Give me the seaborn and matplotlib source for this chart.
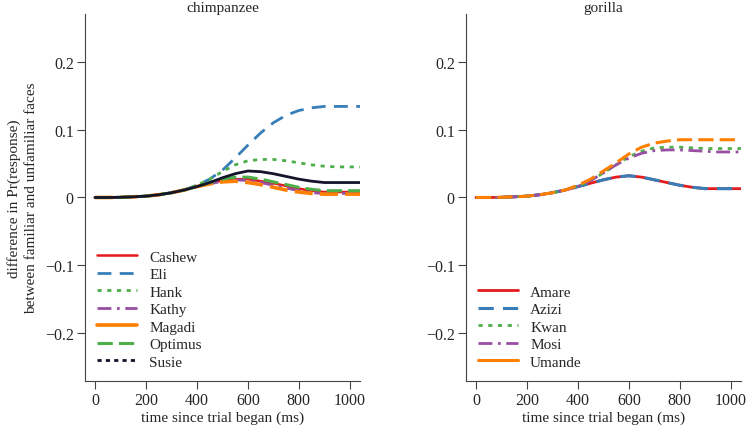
import numpy as np
import pandas as pd
import matplotlib
matplotlib.use("Agg")
import matplotlib.pyplot as plt
from matplotlib.lines import Line2D
import seaborn as sns

# tiempos (ms)
tiempos = [0, 50, 100, 150, 200, 250, 300, 350, 400, 450, 500, 550, 600,
           650, 700, 750, 800, 850, 900, 950, 1000, 1040]
inicio = [0, 0, 0.0003, 0.001, 0.002, 0.004, 0.007, 0.011, 0.016]

# chimpances
cashew = inicio + [0.021, 0.025, 0.027, 0.027, 0.024, 0.021, 0.017, 0.013, 0.010, 0.008, 0.008, 0.008, 0.008]
eli = inicio[:-1] + [0.018, 0.027, 0.040, 0.058, 0.077, 0.095, 0.110, 0.121, 0.128, 0.132, 0.134, 0.134, 0.134, 0.134]
hank = inicio[:-1] + [0.018, 0.027, 0.038, 0.048, 0.054, 0.056, 0.056, 0.054, 0.051, 0.048, 0.046, 0.045, 0.045, 0.045]
kathy = inicio + [0.020, 0.024, 0.026, 0.025, 0.022, 0.018, 0.014, 0.010, 0.007, 0.006, 0.006, 0.006, 0.006]
magadi = inicio + [0.020, 0.023, 0.024, 0.022, 0.019, 0.015, 0.011, 0.008, 0.006, 0.005, 0.005, 0.005, 0.005]
optimus = inicio + [0.022, 0.027, 0.030, 0.030, 0.027, 0.023, 0.019, 0.015, 0.012, 0.010, 0.010, 0.010, 0.010]
susie = inicio + [0.022, 0.029, 0.035, 0.039, 0.038, 0.035, 0.031, 0.027, 0.024, 0.022, 0.022, 0.022, 0.022]

# gorilas
amare = inicio + [0.021, 0.026, 0.030, 0.032, 0.030, 0.026, 0.022, 0.018, 0.015, 0.013, 0.013, 0.013, 0.013]
azizi = inicio + [0.021, 0.026, 0.030, 0.032, 0.030, 0.026, 0.022, 0.018, 0.015, 0.013, 0.013, 0.013, 0.013]
kwan = inicio[:-1] + [0.017, 0.025, 0.036, 0.048, 0.060, 0.068, 0.073, 0.074, 0.074, 0.073, 0.072, 0.072, 0.072, 0.072]
mosi = inicio + [0.025, 0.036, 0.048, 0.058, 0.065, 0.069, 0.070, 0.070, 0.069, 0.068, 0.067, 0.067, 0.067]
umande = inicio[:-1] + [0.018, 0.027, 0.039, 0.051, 0.064, 0.074, 0.080, 0.083, 0.085, 0.085, 0.085, 0.085, 0.085, 0.085]

chimp_nombres = ["Cashew", "Eli", "Hank", "Kathy", "Magadi", "Optimus", "Susie"]
chimp_datos = [cashew, eli, hank, kathy, magadi, optimus, susie]
gori_nombres = ["Amare", "Azizi", "Kwan", "Mosi", "Umande"]
gori_datos = [amare, azizi, kwan, mosi, umande]

rojo, azul, verde, morado, naranja, negro = "#e41a1c", "#377eb8", "#4daf4a", "#984ea3", "#ff7f00", "#14142b"

# (color, estilo en grafico, estilo en leyenda, grosor)
estilos_chimp = [
    (rojo, "-", "-", 1.8),
    (azul, (0, (5, 3)), (0, (5, 3)), 2.0),
    (verde, (0, (1.5, 2)), (0, (1.5, 2)), 2.0),
    (morado, (0, (5, 2, 1, 2)), (0, (5, 2, 1, 2)), 2.0),
    (naranja, (0, (5, 2)), "-", 2.6),
    (verde, (0, (5, 2)), (0, (5, 2)), 2.2),
    (negro, "-", (0, (1.5, 1.5)), 2.0),
]
estilos_gori = [
    (rojo, "-", "-", 2.0),
    (azul, (0, (5, 3)), (0, (5, 3)), 2.2),
    (verde, (0, (1.5, 2)), (0, (1.5, 2)), 2.0),
    (morado, (0, (5, 2, 1, 2)), (0, (5, 2, 1, 2)), 2.0),
    (naranja, (0, (5, 2)), "-", 2.2),
]

sns.set_style("ticks")
plt.rcParams["font.family"] = ["Liberation Serif", "DejaVu Serif"]
plt.rcParams["font.size"] = 11

fig = plt.figure(figsize=(7.54, 4.31), dpi=100)
ax1 = fig.add_axes([0.1127, 0.1137, 0.3648, 0.8515])
ax2 = fig.add_axes([0.618, 0.1137, 0.3647, 0.8515])


def dibujar(ax, nombres, datos, estilos, titulo):
    handles = []
    for nombre, valores, (color, ls, ls_ley, lw) in zip(nombres, datos, estilos):
        df = pd.DataFrame({"t": tiempos, "v": valores})
        sns.lineplot(data=df, x="t", y="v", ax=ax, color=color, linestyle=ls, linewidth=lw)
        handles.append(Line2D([], [], color=color, linestyle=ls_ley, linewidth=lw))
    ax.set_xlim(-39, 1040)
    ax.set_ylim(-0.27, 0.27)
    ax.set_xticks([0, 200, 400, 600, 800, 1000])
    ax.set_yticks([-0.2, -0.1, 0, 0.1, 0.2])
    ax.set_yticklabels(["\u22120.2", "\u22120.1", "0", "0.1", "0.2"])
    ax.set_xlabel("time since trial began (ms)", labelpad=2, fontsize=11)
    ax.set_ylabel("")
    ax.set_title(titulo, fontsize=11, pad=2)
    for s in ["top", "right"]:
        ax.spines[s].set_visible(False)
    for s in ["left", "bottom"]:
        ax.spines[s].set_color("#444444")
    ax.tick_params(direction="out", length=6, color="#444444", labelsize=11.5, pad=2)
    ax.legend(handles, nombres, loc="lower left", frameon=False, handlelength=2.6,
              handletextpad=0.8, labelspacing=0.25, borderaxespad=0.4, fontsize=11)


dibujar(ax1, chimp_nombres, chimp_datos, estilos_chimp, "chimpanzee")
dibujar(ax2, gori_nombres, gori_datos, estilos_gori, "gorilla")
ax1.set_ylabel("difference in Pr(response)\nbetween familiar and unfamiliar faces",
               labelpad=5, fontsize=11, linespacing=1.45)

fig.savefig("out.png", dpi=100)
